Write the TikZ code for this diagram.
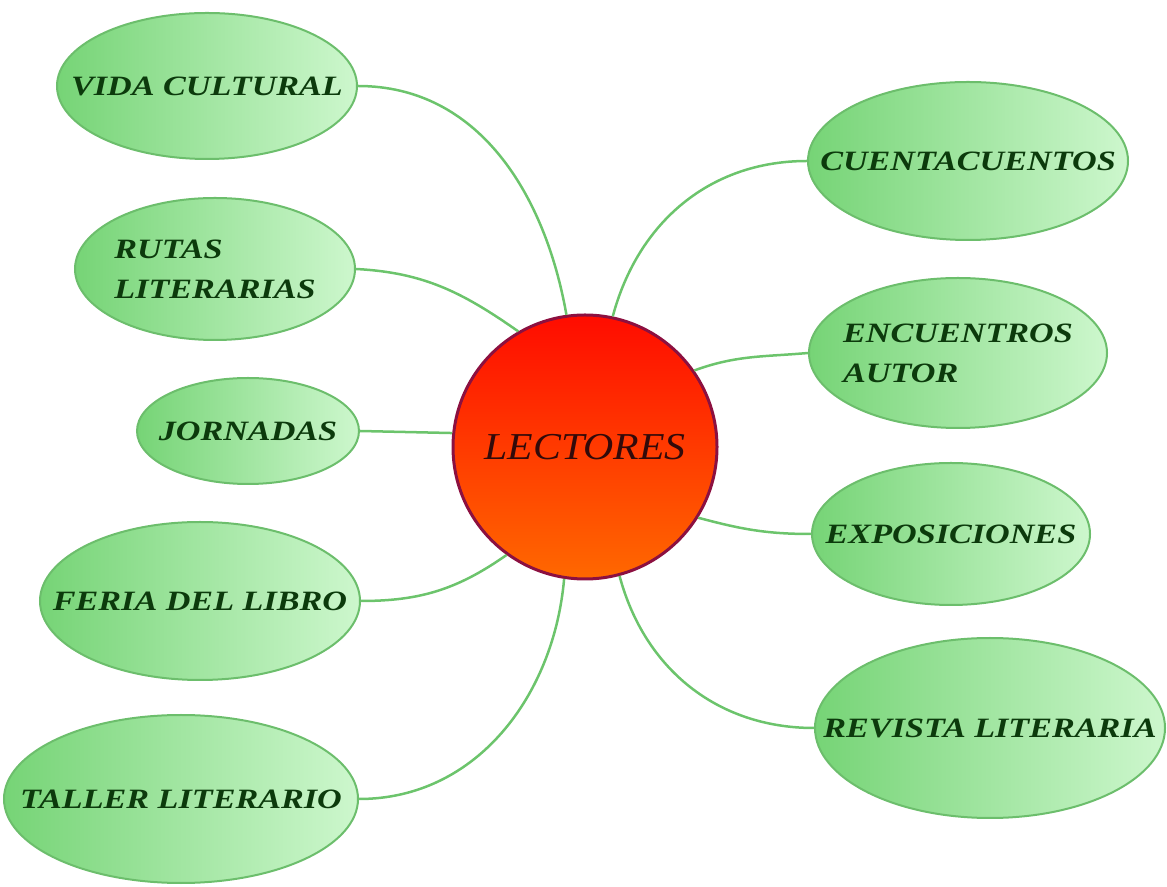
\documentclass[tikz,border=0pt]{standalone}
\usepackage{fontspec}
\usetikzlibrary{shapes.geometric}
\newfontfamily\lblfont[FakeStretch=1.22]{Liberation Serif}
\newfontfamily\ctrfont[FakeStretch=1.1]{Liberation Serif}
\definecolor{conncol}{RGB}{108,196,108}
\definecolor{ellborder}{RGB}{108,190,108}
\definecolor{ellleft}{RGB}{118,212,118}
\definecolor{ellright}{RGB}{205,247,205}
\definecolor{lbltext}{RGB}{12,58,12}
\definecolor{ctrborder}{RGB}{140,16,64}
\definecolor{ctrtop}{RGB}{255,12,0}
\definecolor{ctrbottom}{RGB}{255,104,0}
\definecolor{ctrtext}{RGB}{50,10,10}
\tikzset{
  leaf/.style={ellipse, draw=ellborder, line width=2pt, left color=ellleft, right color=ellright,
    inner sep=0pt},
  leaftext/.style={inner sep=0pt, text=lbltext, align=left,
    font=\lblfont\bfseries\itshape\fontsize{28}{40}\selectfont},
  hub/.style={circle, draw=ctrborder, line width=3pt, top color=ctrtop, bottom color=ctrbottom,
    minimum size=264pt, inner sep=0pt, text=ctrtext, font=\ctrfont\itshape\fontsize{38}{40}\selectfont},
  conn/.style={draw=conncol, line width=2.5pt}
}
\begin{document}
\begin{tikzpicture}[x=1pt,y=1pt]
\useasboundingbox (0,0) rectangle (1167,886);
\node[hub] (c) at (585,439) {LECTORES};
% left
\node[leaf, minimum width=300pt, minimum height=146pt, label={[leaftext]center:VIDA CULTURAL}] (vida) at (207,800) {};
\node[leaf, minimum width=280pt, minimum height=142pt, label={[leaftext]center:RUTAS\\LITERARIAS}] (rutas) at (215,617) {};
\node[leaf, minimum width=222pt, minimum height=106pt, label={[leaftext]center:JORNADAS}] (jorn) at (248,455) {};
\node[leaf, minimum width=320pt, minimum height=158pt, label={[leaftext]center:FERIA DEL LIBRO}] (feria) at (200,285) {};
\node[leaf, minimum width=354pt, minimum height=168pt, label={[leaftext]center:TALLER LITERARIO}] (taller) at (181,87) {};
% right
\node[leaf, minimum width=320pt, minimum height=158pt, label={[leaftext]center:CUENTACUENTOS}] (cuenta) at (968,725) {};
\node[leaf, minimum width=298pt, minimum height=150pt, label={[leaftext]center:ENCUENTROS\\AUTOR}] (encu) at (958,533) {};
\node[leaf, minimum width=278pt, minimum height=142pt, label={[leaftext]center:EXPOSICIONES}] (expo) at (951,352) {};
\node[leaf, minimum width=350pt, minimum height=180pt, label={[leaftext]center:REVISTA LITERARIA}] (revista) at (990,158) {};
% connectors
\draw[conn] (vida.east) to[out=0,in=100] (c.98);
\draw[conn] (rutas.east) to[out=-3,in=145] (c.120);
\draw[conn] (jorn.east) -- (c.174);
\draw[conn] (feria.east) to[out=0,in=215] (c.234);
\draw[conn] (taller.east) to[out=0,in=265] (c.261);
\draw[conn] (cuenta.west) to[out=180,in=75] (c.78);
\draw[conn] (encu.west) to[out=185,in=20] (c.35);
\draw[conn] (expo.west) to[out=180,in=-15] (c.-32);
\draw[conn] (revista.west) to[out=180,in=-75] (c.-75);
\end{tikzpicture}
\end{document}
